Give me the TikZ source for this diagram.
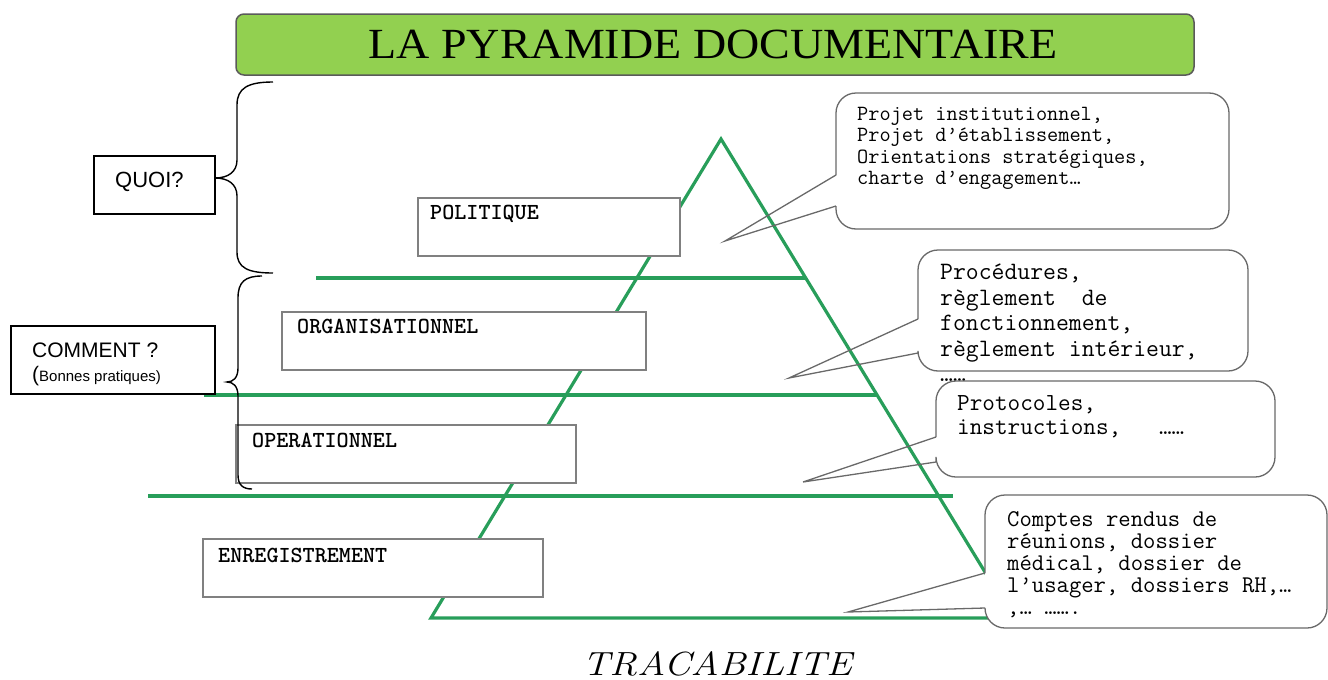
\documentclass[tikz,border=0pt]{standalone}
\usepackage{fontspec}
\usepackage{tikz}
\usetikzlibrary{calc}
\newfontfamily\titlefont{Liberation Serif}
\newfontfamily\arialfont{Liberation Sans}
\definecolor{titlegreen}{RGB}{146,208,80}
\definecolor{titleedge}{RGB}{90,90,90}
\definecolor{pyrgreen}{RGB}{40,158,90}
\definecolor{boxgray}{RGB}{105,105,105}
\tikzset{
	pyr/.style={draw=pyrgreen, line width=3.2pt},
	lvl/.style={draw=boxgray!85, line width=1.4pt, fill=white, inner sep=0pt, outer sep=0pt, anchor=north west},
	lvltxt/.style={anchor=base west, inner sep=0pt, font=\fontsize{23}{23}\selectfont\ttfamily\bfseries},
	qbox/.style={draw=black, line width=2pt, fill=white, inner sep=0pt, outer sep=0pt, anchor=north west},
	cbox/.style={fill=white, rounded corners=20pt, inner sep=0pt, outer sep=0pt, anchor=north west},
	cline/.style={draw=boxgray, line width=1.3pt},
	ctxt/.style={anchor=north west, inner sep=0pt, align=left},
	bracket/.style={draw=black, line width=1.4pt},
}

\begin{document}
\begin{tikzpicture}[x=1pt,y=-1pt]
			%%%%% START %%%%%
			\useasboundingbox (0,0) rectangle (1328,680);
			
			\node[draw=titleedge, line width=1.5pt, fill=titlegreen, rounded corners=8pt, inner sep=0pt, outer sep=0pt, anchor=north west, minimum width=958pt, minimum height=61pt] (title) at (236,14) {};
			\node[anchor=base, inner sep=0pt, font=\titlefont\fontsize{43}{43}\selectfont] (titletxt) at (713,58) {\scalebox{1.07}[1]{LA PYRAMIDE DOCUMENTAIRE}};
			
			% pyramide et niveaux
			\coordinate (apex) at (721,139);
			\coordinate (baseL) at (431,618);
			\coordinate (baseR) at (1013,618);
			\draw[pyr] (apex) -- (baseR) -- (baseL) -- cycle;
			\draw[pyr] (316,278) -- (806,278);
			\draw[pyr] (204,395) -- (878,395);
			\draw[pyr] (148,496) -- (953,496);
			
			\node[lvl, minimum width=262pt, minimum height=58pt] (pol) at (418,198) {};
			\node[lvltxt] (poltxt) at (430,219) {POLITIQUE};
			\node[lvl, minimum width=364pt, minimum height=58pt] (org) at (282,312) {};
			\node[lvltxt] (orgtxt) at (297,333) {ORGANISATIONNEL};
			\node[lvl, minimum width=340pt, minimum height=58pt] (ope) at (236,425) {};
			\node[lvltxt] (opetxt) at (252,447) {OPERATIONNEL};
			\node[lvl, minimum width=340pt, minimum height=58pt] (enr) at (203,539) {};
			\node[lvltxt] (enrtxt) at (218,562) {ENREGISTREMENT};
			
			% QUOI / COMMENT
			\node[qbox, minimum width=121pt, minimum height=58pt] (quoi) at (94,156) {};
			\node[anchor=base west, inner sep=0pt, font=\arialfont\fontsize{22}{22}\selectfont] (quoitxt) at (115,187) {QUOI?};
			\node[qbox, minimum width=204pt, minimum height=68pt] (comment) at (11,326) {};
			\node[anchor=base west, inner sep=0pt, font=\arialfont\fontsize{21}{21}\selectfont] (commenttxt) at (32,357) {COMMENT ?};
			\node[anchor=base west, inner sep=0pt, font=\arialfont\fontsize{15}{15}\selectfont] (bonnestxt) at (32,381) {{\fontsize{21}{21}\selectfont(}Bonnes pratiques)};
			
			\draw[bracket] (273,82) .. controls (248,82) and (237,88) .. (237,105) -- (237,160) .. controls (237,172) and (228,178) .. (215,178) .. controls (228,178) and (237,184) .. (237,196) -- (237,252) .. controls (237,268) and (248,273) .. (273,273);
			\draw[bracket] (262,276) .. controls (245,276) and (238,282) .. (238,298) -- (238,368) .. controls (238,378) and (233,382) .. (227,382) .. controls (233,382) and (238,386) .. (238,396) -- (238,475) .. controls (238,485) and (243,489) .. (252,489);
			
			% bulles
			\node[cbox, minimum width=393pt, minimum height=136pt] (cpol) at (836,93) {};
			\coordinate (cpolA) at (836,175);
			\coordinate (cpolB) at (836,206);
			\coordinate (cpolP) at (725,241);
			\draw[cline, rounded corners=20pt] (cpolA) |- (cpol.north east) |- (cpol.south west) -- (cpolB);
			\draw[cline] (cpolB) -- (cpolP) -- (cpolA);
			\node[ctxt, font=\fontsize{21.7}{21.5}\selectfont\ttfamily] (cpoltxt) at (857,107) {Projet institutionnel,\\Projet d’établissement,\\Orientations stratégiques,\\charte d’engagement…};
			
			\node[cbox, minimum width=330pt, minimum height=121pt] (corg) at (918,250) {};
			\coordinate (corgA) at (918,319);
			\coordinate (corgB) at (918,353);
			\coordinate (corgP) at (789,378);
			\draw[cline, rounded corners=20pt] (corgA) |- (corg.north east) |- (corg.south west) -- (corgB);
			\draw[cline] (corgB) -- (corgP) -- (corgA);
			\node[ctxt, font=\fontsize{25}{25.5}\selectfont\ttfamily] (corgtxt) at (940,264) {Procédures,\\règlement\ \ de\\fonctionnement,\\règlement intérieur,\\……};
			
			\node[cbox, minimum width=339pt, minimum height=96pt] (cope) at (936,381) {};
			\coordinate (copeA) at (936,437);
			\coordinate (copeB) at (936,462);
			\coordinate (copeP) at (803,482);
			\draw[cline, rounded corners=20pt] (copeA) |- (cope.north east) |- (cope.south west) -- (copeB);
			\draw[cline] (copeB) -- (copeP) -- (copeA);
			\node[ctxt, font=\fontsize{24.5}{24}\selectfont\ttfamily] (copetxt) at (957,395) {Protocoles,\\instructions,\ \ \ ……};
			
			\node[cbox, minimum width=342pt, minimum height=133pt] (cenr) at (985,495) {};
			\coordinate (cenrA) at (985,573);
			\coordinate (cenrB) at (985,608);
			\coordinate (cenrP) at (848,612);
			\draw[cline, rounded corners=20pt] (cenrA) |- (cenr.north east) |- (cenr.south west) -- (cenrB);
			\draw[cline] (cenrB) -- (cenrP) -- (cenrA);
			\node[ctxt, font=\fontsize{24}{22}\selectfont\ttfamily] (cenrtxt) at (1007,511) {Comptes rendus de\\réunions, dossier\\médical, dossier de\\l’usager, dossiers RH,…\\,… …….};
			
			\node[anchor=base, inner sep=0pt, font=\fontsize{33.5}{33.5}\selectfont\itshape] (traca) at (717,675) {\scalebox{1.16}[1]{TRACABILITE}};
			%%%%% END %%%%%
\end{tikzpicture}
\end{document}
